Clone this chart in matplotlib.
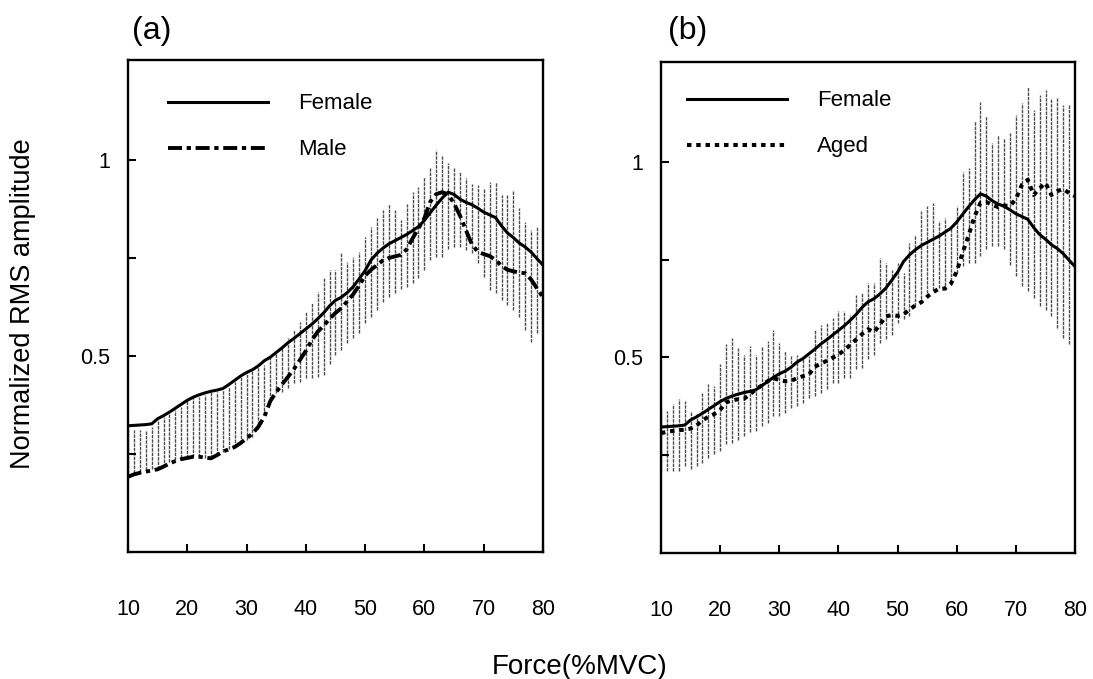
from __future__ import annotations

import matplotlib
matplotlib.use("Agg")
import matplotlib.pyplot as plt
from matplotlib.lines import Line2D


ARQUIVO_SAIDA = "out.png"

# Force (%MVC), one point per 1 %
FORCA = list(range(10, 81))

FEMALE = [
    0.322, 0.323, 0.324, 0.325, 0.327, 0.340, 0.348, 0.357, 0.367, 0.377,
    0.387, 0.395, 0.401, 0.406, 0.410, 0.413, 0.417, 0.427, 0.438, 0.449,
    0.458, 0.465, 0.475, 0.488, 0.497, 0.509, 0.521, 0.534, 0.545, 0.557,
    0.569, 0.581, 0.595, 0.610, 0.628, 0.642, 0.650, 0.662, 0.677, 0.697,
    0.718, 0.745, 0.762, 0.775, 0.786, 0.794, 0.802, 0.810, 0.820, 0.830,
    0.846, 0.866, 0.885, 0.903, 0.918, 0.912, 0.900, 0.892, 0.886, 0.877,
    0.867, 0.860, 0.853, 0.832, 0.814, 0.802, 0.788, 0.778, 0.765, 0.748,
    0.732,
]

MALE = [
    0.192, 0.198, 0.202, 0.205, 0.208, 0.211, 0.218, 0.226, 0.232, 0.237,
    0.240, 0.243, 0.243, 0.241, 0.239, 0.247, 0.256, 0.262, 0.268, 0.278,
    0.290, 0.302, 0.320, 0.345, 0.385, 0.408, 0.428, 0.447, 0.467, 0.490,
    0.513, 0.540, 0.562, 0.577, 0.595, 0.610, 0.622, 0.640, 0.658, 0.680,
    0.705, 0.720, 0.732, 0.744, 0.750, 0.754, 0.758, 0.772, 0.800, 0.826,
    0.852, 0.894, 0.913, 0.918, 0.912, 0.889, 0.858, 0.821, 0.785, 0.766,
    0.760, 0.755, 0.745, 0.730, 0.720, 0.716, 0.713, 0.711, 0.695, 0.672,
    0.650,
]

AGED = [
    0.306, 0.310, 0.312, 0.314, 0.315, 0.318, 0.326, 0.339, 0.348, 0.355,
    0.366, 0.385, 0.390, 0.393, 0.394, 0.405, 0.418, 0.428, 0.439, 0.447,
    0.442, 0.439, 0.440, 0.447, 0.452, 0.456, 0.476, 0.484, 0.491, 0.499,
    0.507, 0.519, 0.532, 0.546, 0.560, 0.572, 0.564, 0.584, 0.605, 0.608,
    0.606, 0.610, 0.622, 0.633, 0.641, 0.655, 0.667, 0.675, 0.676, 0.688,
    0.720, 0.768, 0.812, 0.860, 0.895, 0.897, 0.890, 0.884, 0.888, 0.887,
    0.905, 0.941, 0.954, 0.915, 0.932, 0.946, 0.915, 0.925, 0.930, 0.920,
    0.912,
]

# error bars, panel (a)
BARRA_A_TOPO = [
    0.311, 0.311, 0.311, 0.311, 0.319, 0.337, 0.345, 0.354, 0.362, 0.371,
    0.384, 0.392, 0.396, 0.400, 0.409, 0.409, 0.413, 0.422, 0.434, 0.447,
    0.456, 0.464, 0.473, 0.477, 0.498, 0.507, 0.524, 0.545, 0.566, 0.587,
    0.613, 0.634, 0.664, 0.698, 0.719, 0.720, 0.762, 0.740, 0.753, 0.766,
    0.804, 0.830, 0.851, 0.872, 0.889, 0.872, 0.847, 0.889, 0.919, 0.932,
    0.957, 0.979, 1.026, 1.009, 0.992, 0.979, 0.970, 0.953, 0.940, 0.936,
    0.928, 0.945, 0.945, 0.911, 0.911, 0.923, 0.877, 0.843, 0.821, 0.830,
    0.830,
]
BARRA_A_BASE = [
    0.192, 0.201, 0.205, 0.209, 0.213, 0.213, 0.218, 0.230, 0.235, 0.239,
    0.239, 0.243, 0.243, 0.239, 0.239, 0.247, 0.256, 0.264, 0.268, 0.277,
    0.285, 0.294, 0.315, 0.349, 0.388, 0.405, 0.409, 0.418, 0.430, 0.434,
    0.443, 0.443, 0.447, 0.451, 0.480, 0.503, 0.515, 0.532, 0.545, 0.558,
    0.583, 0.600, 0.617, 0.638, 0.651, 0.660, 0.672, 0.677, 0.685, 0.698,
    0.719, 0.745, 0.753, 0.753, 0.774, 0.779, 0.779, 0.770, 0.762, 0.736,
    0.702, 0.668, 0.660, 0.643, 0.630, 0.617, 0.600, 0.566, 0.536, 0.558,
    0.530,
]

# error bars, panel (b)
BARRA_B_TOPO = [
    0.370, 0.363, 0.380, 0.393, 0.388, 0.363, 0.359, 0.410, 0.431, 0.427,
    0.482, 0.533, 0.550, 0.524, 0.507, 0.529, 0.505, 0.529, 0.541, 0.571,
    0.537, 0.516, 0.503, 0.507, 0.495, 0.503, 0.571, 0.584, 0.588, 0.601,
    0.618, 0.618, 0.609, 0.660, 0.665, 0.690, 0.690, 0.754, 0.741, 0.724,
    0.741, 0.716, 0.793, 0.814, 0.873, 0.886, 0.895, 0.848, 0.856, 0.835,
    0.886, 0.975, 0.984, 1.103, 1.154, 1.116, 1.048, 1.069, 1.061, 1.073,
    1.120, 1.150, 1.190, 1.133, 1.171, 1.184, 1.163, 1.163, 1.146, 1.146,
    1.140,
]
BARRA_B_BASE = [
    0.210, 0.210, 0.210, 0.210, 0.223, 0.214, 0.223, 0.231, 0.244, 0.252,
    0.261, 0.278, 0.282, 0.290, 0.299, 0.308, 0.312, 0.325, 0.333, 0.350,
    0.350, 0.359, 0.371, 0.376, 0.384, 0.397, 0.401, 0.410, 0.418, 0.435,
    0.435, 0.448, 0.448, 0.469, 0.473, 0.495, 0.507, 0.537, 0.546, 0.558,
    0.588, 0.597, 0.605, 0.631, 0.639, 0.665, 0.673, 0.677, 0.673, 0.694,
    0.716, 0.733, 0.741, 0.741, 0.759, 0.776, 0.784, 0.784, 0.776, 0.737,
    0.707, 0.682, 0.669, 0.652, 0.631, 0.622, 0.605, 0.575, 0.550, 0.533,
    0.520,
]

X_TICKS = [10, 20, 30, 40, 50, 60, 70, 80]
Y_TICKS = [0.25, 0.5, 0.75, 1.0]
Y_ROTULOS = ["", "0.5", "", "1"]

ESTILO_FEMALE = dict(color="black", linewidth=2.2, linestyle="-")
ESTILO_MALE = dict(color="black", linewidth=2.8, linestyle=(0, (3.6, 1.2, 1.1, 1.2)))
ESTILO_AGED = dict(color="black", linewidth=2.9, linestyle=(0, (1.1, 1.2)))


def configurar_eixo(ax: plt.Axes) -> None:
    ax.set_xlim(10, 80)
    ax.set_ylim(0, 1.255)
    ax.set_xticks(X_TICKS)
    ax.set_yticks(Y_TICKS)
    ax.set_yticklabels(Y_ROTULOS)
    ax.tick_params(axis="x", direction="in", length=6, width=1.5,
                   labelsize=15.5, pad=34, top=False)
    ax.tick_params(axis="y", direction="in", length=6, width=1.5,
                   labelsize=15.5, pad=13, right=False)
    for lado in ax.spines.values():
        lado.set_linewidth(1.7)


def desenhar_barras(ax: plt.Axes, topo: list, base: list) -> None:
    ax.vlines(FORCA, base, topo, colors="0.3", linewidth=1.0,
              linestyles=(0, (2.5, 0.7)), zorder=1)


def painel(ax, outra, estilo_outra, nome_outra, topo, base, ancora):
    desenhar_barras(ax, topo, base)
    ax.plot(FORCA, FEMALE, zorder=3, **ESTILO_FEMALE)
    ax.plot(FORCA, outra, zorder=3, **estilo_outra)
    configurar_eixo(ax)
    alcas = [Line2D([], [], **ESTILO_FEMALE), Line2D([], [], **estilo_outra)]
    ax.legend(alcas, ["Female", nome_outra], loc="upper left",
              bbox_to_anchor=ancora, frameon=False, borderpad=0,
              borderaxespad=0, handlelength=4.5, handletextpad=1.35,
              labelspacing=1.12, fontsize=16)


def main() -> None:
    plt.rcParams["font.family"] = ["Liberation Sans", "DejaVu Sans"]
    fig = plt.figure(figsize=(10.93, 6.79), dpi=100)
    ax_a = fig.add_axes([0.1171, 0.187, 0.3797, 0.7246])
    ax_b = fig.add_axes([0.6048, 0.1856, 0.3788, 0.7231])

    painel(ax_a, MALE, ESTILO_MALE, "Male", BARRA_A_TOPO, BARRA_A_BASE,
           (0.096, 0.932))
    painel(ax_b, AGED, ESTILO_AGED, "Aged", BARRA_B_TOPO, BARRA_B_BASE,
           (0.063, 0.942))

    fig.text(132 / 1093, 1 - 31 / 679, "(a)", fontsize=23, ha="left", va="center")
    fig.text(668 / 1093, 1 - 31 / 679, "(b)", fontsize=23, ha="left", va="center")
    fig.text(23 / 1093, 0.553, "Normalized RMS amplitude", fontsize=19.5,
             rotation=90, ha="center", va="center")
    fig.text(580 / 1093, 1 - 667 / 679, "Force(%MVC)", fontsize=20,
             ha="center", va="center")

    fig.savefig(ARQUIVO_SAIDA, dpi=100)
    plt.close(fig)


if __name__ == "__main__":
    main()
